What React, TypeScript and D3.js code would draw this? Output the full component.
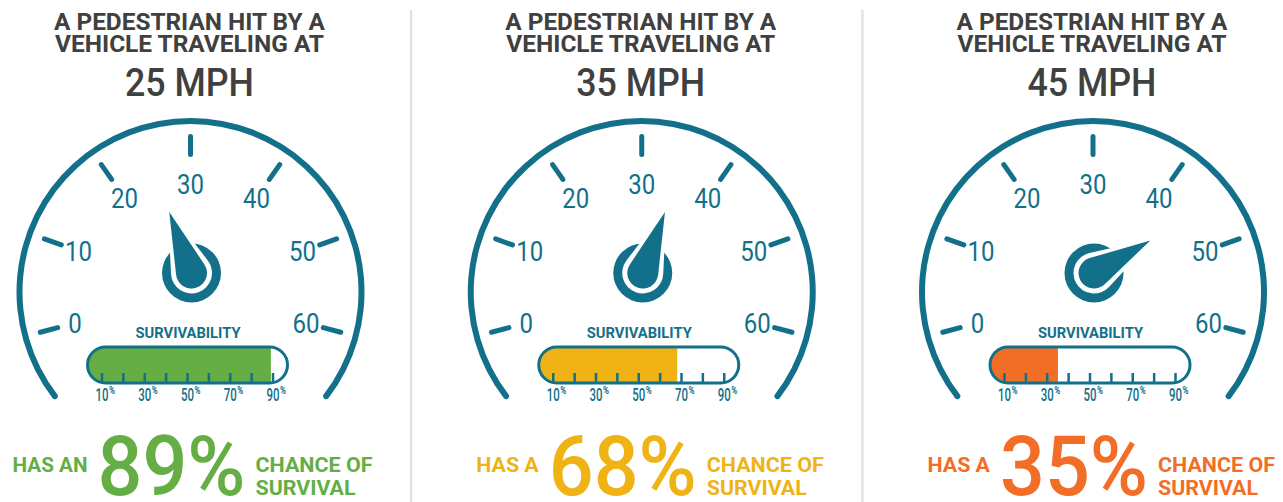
import React from "react";
import * as d3 from "d3";

const speeds = [25, 35, 45];
const survival = [89, 68, 35];
const prefixes = ["HAS AN", "HAS A", "HAS A"];
const fillColors = ["#64ae45", "#f0b316", "#f26e27"];
const titleLines = ["A PEDESTRIAN HIT BY A", "VEHICLE TRAVELING AT"];
const dialTicks = [0, 10, 20, 30, 40, 50, 60];
const barTicks = [10, 20, 30, 40, 50, 60, 70, 80, 90];
const barTickLabels = [10, 30, 50, 70, 90];
const suffixLines = ["CHANCE OF", "SURVIVAL"];

const TEAL = "#12708a";
const GRAY = "#404040";
const FONT = "Roboto, 'Noto Sans', sans-serif";

const W = 1283, H = 502;
const panelX = d3.scalePoint<number>().domain(speeds).range([190.5, 1093]);
const dialAngle = d3.scaleLinear().domain([0, 60]).range([-105, 105]);
const needleAngle = d3.scaleLinear().domain([0, 60]).range([-120, 120]);
const barX = d3.scaleLinear().domain([10, 90]).range([-88.5, 82.5]);

const GY = 292; // gauge centre y
const HUBY = 273;
const rad = (d: number) => (d * Math.PI) / 180;
const polar = (cx: number, cy: number, r: number, deg: number): [number, number] => [
  cx + r * Math.sin(rad(deg)),
  cy - r * Math.cos(rad(deg)),
];

function teardrop(cx: number, cy: number, r: number, d: number, deg: number) {
  const tip = polar(cx, cy, d, deg);
  const phi = (Math.acos(r / d) * 180) / Math.PI;
  const p1 = polar(cx, cy, r, deg + phi);
  const p2 = polar(cx, cy, r, deg - phi);
  return `M${p1[0]},${p1[1]}L${tip[0]},${tip[1]}L${p2[0]},${p2[1]}A${r},${r} 0 1 0 ${p1[0]},${p1[1]}Z`;
}

const arcGen = d3
  .arc()
  .innerRadius(168)
  .outerRadius(174)
  .cornerRadius(3)
  .startAngle(rad(-128.5))
  .endAngle(rad(128.5));

function Panel({ i }: { i: number }) {
  const speed = speeds[i];
  const cx = panelX(speed)!;
  const color = fillColors[i];
  const pct = survival[i];
  const barL = cx - 103, barR = cx + 97, barT = 347, barB = 383;
  const bigStart = cx - 93;
  const na = needleAngle(speed);
  const clipId = `barclip${i}`;
  return (
    <g>
      {/* title */}
      {titleLines.map((t, k) => (
        <text key={k} x={cx - 1} y={30 + k * 22} textAnchor="middle" fontFamily={FONT} fontWeight={700}
          fontSize={24} fill={GRAY} textLength={k === 0 ? 271 : 269} lengthAdjust="spacingAndGlyphs">{t}</text>
      ))}
      <text x={cx - 1} y={96} textAnchor="middle" fontFamily={FONT} fontWeight={500} fontSize={38} fill={GRAY}
        textLength={129} lengthAdjust="spacingAndGlyphs">{`${speed} MPH`}</text>

      {/* gauge arc */}
      <path d={arcGen({} as any) as string} transform={`translate(${cx},${GY})`} fill={TEAL} />
      {dialTicks.map((v) => {
        const a = dialAngle(v);
        const p0 = polar(cx, GY, 137.5, a);
        const p1 = polar(cx, GY, 155.5, a);
        const lr = 108 + 12 * Math.abs(Math.sin(rad(a)));
        const lp = polar(cx, GY, lr, a);
        const s = String(v);
        return (
          <g key={v}>
            <line x1={p0[0]} y1={p0[1]} x2={p1[0]} y2={p1[1]} stroke={TEAL} strokeWidth={5} strokeLinecap="round" />
            <text x={lp[0]} y={lp[1] + 10} textAnchor="middle" fontFamily={FONT} fontSize={28} fill={TEAL}
              textLength={s.length * 13.5} lengthAdjust="spacingAndGlyphs">{s}</text>
          </g>
        );
      })}

      {/* needle */}
      <circle cx={cx + 1} cy={HUBY} r={29.5} fill={TEAL} />
      <path d={teardrop(cx + 1, HUBY, 20.5, 69, na)} fill="#fff" />
      <path d={teardrop(cx + 1, HUBY, 15.5, 65, na)} fill={TEAL} />

      {/* survivability bar */}
      <text x={cx - 2.5} y={338} textAnchor="middle" fontFamily={FONT} fontWeight={700} fontSize={14} fill={TEAL}
        textLength={105} lengthAdjust="spacingAndGlyphs">SURVIVABILITY</text>
      <defs>
        <clipPath id={clipId}>
          <rect x={barL} y={barT} width={barR - barL} height={barB - barT} rx={18} ry={18} />
        </clipPath>
      </defs>
      <rect x={barL} y={barT} width={barR - barL} height={barB - barT} rx={18} ry={18} fill="#fff" />
      <rect x={barL} y={barT} width={cx + barX(pct) - barL} height={barB - barT} fill={color} clipPath={`url(#${clipId})`} />
      {barTicks.map((t) => (
        <line key={t} x1={cx + barX(t)} x2={cx + barX(t)} y1={373} y2={383} stroke={TEAL} strokeWidth={2.5} />
      ))}
      <rect x={barL} y={barT} width={barR - barL} height={barB - barT} rx={18} ry={18} fill="none" stroke={TEAL} strokeWidth={3} />
      {barTickLabels.map((t) => (
        <g key={t}>
          <text x={cx + barX(t) - 6.5} y={401} fontFamily={FONT} fontWeight={500} fontSize={18} fill={TEAL}
            textLength={13} lengthAdjust="spacingAndGlyphs">{String(t)}</text>
          <text x={cx + barX(t) + 7} y={394} fontFamily={FONT} fontSize={10} fontWeight={700} fill={TEAL}
            textLength={6} lengthAdjust="spacingAndGlyphs">%</text>
        </g>
      ))}

      {/* bottom statement */}
      <text x={bigStart - 10} y={472} textAnchor="end" fontFamily={FONT} fontWeight={700} fontSize={21} fill={color}
        textLength={prefixes[i].length * 12.5} lengthAdjust="spacingAndGlyphs">{prefixes[i]}</text>
      <text x={bigStart} y={495} fontFamily={FONT} fontWeight={500} fontSize={83} fill={color}
        textLength={148} lengthAdjust="spacingAndGlyphs">{`${pct}%`}</text>
      {suffixLines.map((s, k) => (
        <text key={k} x={bigStart + 158} y={472 + k * 23} fontFamily={FONT} fontWeight={700} fontSize={21} fill={color}
          textLength={k === 0 ? 117 : 100} lengthAdjust="spacingAndGlyphs">{s}</text>
      ))}
    </g>
  );
}

export default function App() {
  const mids = [0, 1].map((k) => (panelX(speeds[k])! + panelX(speeds[k + 1])!) / 2);
  return (
    <svg width={W} height={H} style={{ position: "absolute", left: 0, top: 0, background: "#fff" }}>
      <rect width={W} height={H} fill="#fff" />
      {mids.map((m, k) => (
        <line key={k} x1={m - 5} x2={m - 5} y1={10} y2={H} stroke="#e3e3e3" strokeWidth={2.5} />
      ))}
      {speeds.map((_, i) => (
        <Panel key={i} i={i} />
      ))}
    </svg>
  );
}
